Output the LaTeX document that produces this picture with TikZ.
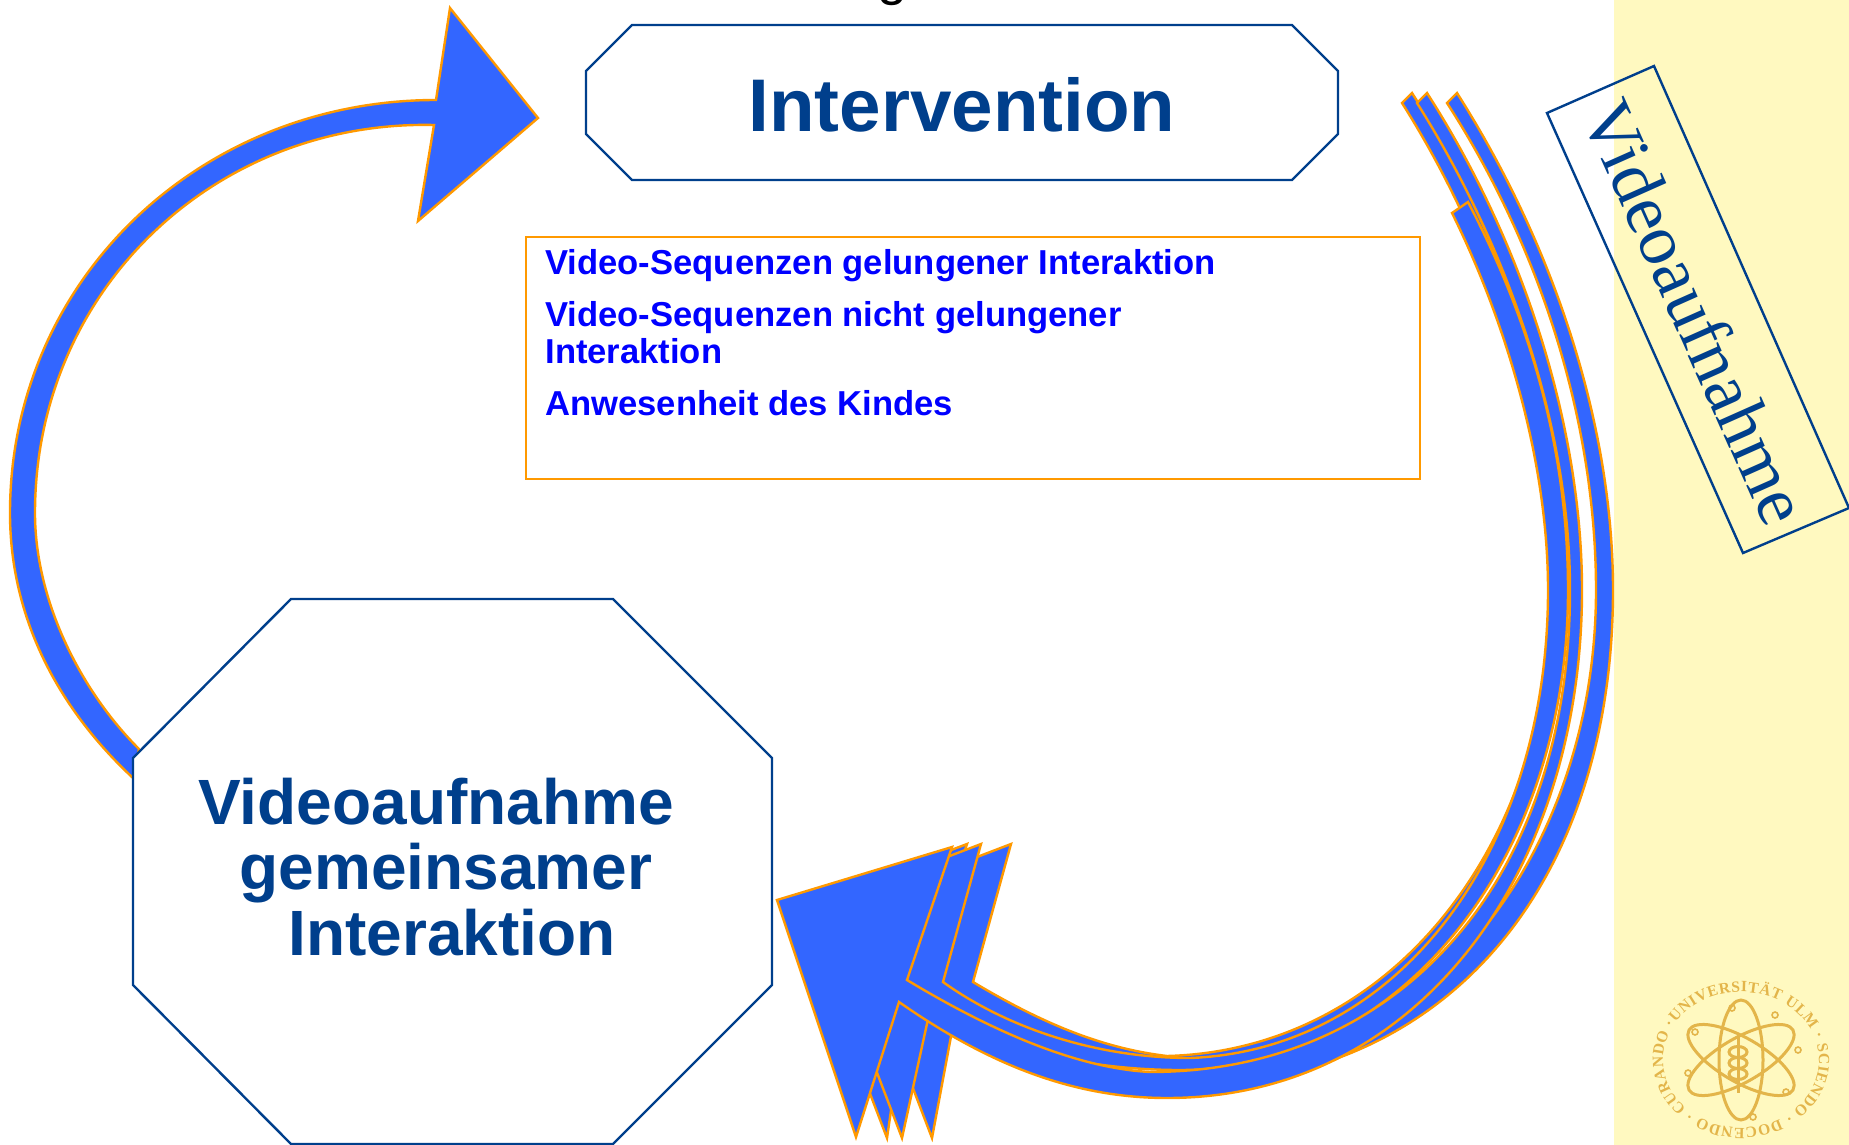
\documentclass[tikz,border=0pt]{standalone}
\usepackage{fontspec}
\setmainfont{Liberation Sans}
\newfontfamily\serifface{Liberation Serif}
\usetikzlibrary{decorations.text}
\definecolor{DarkBlue}{HTML}{003F8C}
\definecolor{ArrowBlue}{HTML}{3366FF}
\definecolor{ArrowOrange}{HTML}{FF9900}
\definecolor{BandYellow}{HTML}{FFF9C0}
\definecolor{LogoGold}{HTML}{E3B54A}
\tikzset{
  blockarrow/.style={fill=ArrowBlue,draw=ArrowOrange,line width=1.2pt,line join=miter},
  outlinebox/.style={draw=DarkBlue,fill=white,line width=1.2pt},
  titletext/.style={font=\bfseries\fontsize{37.3}{37.3}\selectfont,text=DarkBlue,inner sep=0pt},
  itemtext/.style={font=\bfseries\fontsize{17.3}{18.4}\selectfont,text=blue,anchor=base west,inner sep=0pt,align=left},
  logoline/.style={draw=LogoGold,line width=1.5pt}
}
\begin{document}
\begin{tikzpicture}[x=.5pt,y=-.5pt]
\useasboundingbox (0,0) rectangle (1849,1145);
\fill[BandYellow] (1614,0) rectangle (1849,1145);
\node[font=\fontsize{27}{27}\selectfont,anchor=base,inner sep=0pt] (topline) at (893,-5) {g};

% left arrow
\draw[blockarrow] (133,778) .. controls (60,710) and (10,620) .. (10,513)
  .. controls (10,280) and (200,100) .. (436,100) -- (450,8) -- (538,118) -- (418,221) -- (434,125)
  .. controls (215,120) and (35,290) .. (35,513) .. controls (35,600) and (80,690) .. (139,749) -- cycle;

% right arrows, back to front
\draw[blockarrow] (1457,93) .. controls (1557,250) and (1613,430) .. (1613,590)
  .. controls (1613,880) and (1450,1085) .. (1180,1085) .. controls (1090,1085) and (990,1055) .. (905,1015)
  -- (887,1138) -- (799,908) -- (967,844) -- (920,990)
  .. controls (1000,1040) and (1085,1075) .. (1190,1075) .. controls (1420,1075) and (1596,860) .. (1596,590)
  .. controls (1596,430) and (1545,255) .. (1447,103) -- cycle;
\draw[blockarrow] (1412,93) .. controls (1510,245) and (1565,430) .. (1565,590)
  .. controls (1565,860) and (1395,1068) .. (1180,1068) .. controls (1090,1068) and (1010,1055) .. (955,1015)
  -- (932,1138) -- (844,908) -- (1011,844) -- (973,982)
  .. controls (1040,1022) and (1100,1048) .. (1167,1056) .. controls (1395,1050) and (1552,840) .. (1552,590)
  .. controls (1552,430) and (1495,250) .. (1402,103) -- cycle;
\draw[blockarrow] (1468,202) .. controls (1530,320) and (1568,450) .. (1568,590)
  .. controls (1568,860) and (1400,1070) .. (1180,1070) .. controls (1090,1070) and (1000,1050) .. (930,1010)
  -- (902,1138) -- (814,908) -- (981,844) -- (943,982)
  .. controls (1010,1030) and (1100,1058) .. (1190,1058) .. controls (1400,1050) and (1548,850) .. (1548,590)
  .. controls (1548,460) and (1505,320) .. (1452,213) -- cycle;
\draw[blockarrow] (1427,93) .. controls (1525,245) and (1582,430) .. (1582,590)
  .. controls (1582,870) and (1420,1098) .. (1167,1098) .. controls (1070,1098) and (985,1062) .. (899,1002)
  -- (856,1137) -- (777,900) -- (952,847) -- (907,980)
  .. controls (990,1030) and (1075,1068) .. (1150,1072) .. controls (1400,1072) and (1570,880) .. (1570,590)
  .. controls (1570,430) and (1510,250) .. (1417,103) -- cycle;

% boxes
\draw[outlinebox] (632,25) -- (1292,25) -- (1338,71) -- (1338,134) -- (1292,180) -- (632,180) -- (586,134) -- (586,71) -- cycle;
\node[titletext] (intervention) at (962,105) {Intervention};
\draw[outlinebox] (291,599) -- (613,599) -- (772,758) -- (772,985) -- (613,1144) -- (291,1144) -- (133,985) -- (133,758) -- cycle;
\node[titletext,font=\bfseries\fontsize{32}{32.7}\selectfont,align=left,anchor=base west] (recording) at (198,955)
  {Videoaufnahme\\\hspace*{20.6pt}gemeinsamer\\\hspace*{45pt}Interaktion};

\draw[draw=ArrowOrange,line width=1.2pt] (526,237) rectangle (1420,479);
\node[itemtext] (itemone) at (545,274) {Video-Sequenzen gelungener Interaktion};
\node[itemtext] (itemtwo) at (545,363) {Video-Sequenzen nicht gelungener\\Interaktion};
\node[itemtext] (itemthree) at (545,415) {Anwesenheit des Kindes};

% side label
\draw[draw=DarkBlue,line width=1.2pt] (1547,113) -- (1654,66) -- (1849,508) -- (1743,553) -- cycle;
\node[rotate=-66,font=\serifface\fontsize{36}{36}\selectfont,text=DarkBlue,inner sep=0pt] (sidelabel) at (1696,312) {Videoaufnahme};

% logo
\coordinate (logo) at (1741,1060);
\path[decorate,decoration={text along path,text align={fit to path},
    text={|\serifface\bfseries\fontsize{7.8}{7.8}\selectfont\color{LogoGold}|UNIVERSITÄT ULM · SCIENDO · DOCENDO · CURANDO ·}}]
  (logo) ++(-147:78 and 68) arc (-147:212:78 and 68);
\draw[logoline] (logo) ellipse (22 and 60);
\draw[logoline,rotate around={60:(logo)}] (logo) ellipse (22 and 60);
\draw[logoline,rotate around={-60:(logo)}] (logo) ellipse (22 and 60);
\draw[logoline] (1738,1033) -- (1738,1093);
\foreach \i in {-8,3,14} {
  \draw[logoline] (1738,1060+\i) ellipse (9 and 5.5);
}
\foreach \px/\py in {1732/1008,1775/1015,1798/1050,1786/1092,1753/1117,1688/1073,1695/1032} {
  \draw[logoline,line width=.8pt] (\px,\py) circle (3);
}
\end{tikzpicture}
\end{document}
